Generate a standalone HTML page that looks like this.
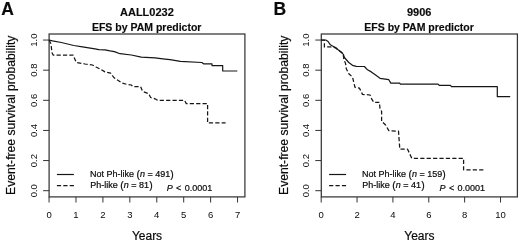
<!DOCTYPE html>
<html><head><meta charset="utf-8">
<style>
html,body{margin:0;padding:0;background:#fff;}
body{width:520px;height:243px;overflow:hidden;}
svg{display:block;will-change:transform;}
text{font-family:"Liberation Sans",sans-serif;fill:#0a0a0a;}
.b{font-weight:bold;stroke:#0a0a0a;stroke-width:0.15;}
.t text,text.t{stroke:#0a0a0a;stroke-width:0.2;}
.n text{stroke:none;}
.bx{stroke:#363636;stroke-width:1.25;fill:none;}
.tk{stroke:#333;stroke-width:1;fill:none;}
.cv{stroke:#161616;stroke-width:1.2;fill:none;stroke-linejoin:round;}
.ds{stroke:#161616;stroke-width:1.25;fill:none;stroke-dasharray:4.2 2.2;stroke-linejoin:round;}
</style></head><body>
<svg width="520" height="243" viewBox="0 0 520 243">
<rect width="520" height="243" fill="#fff"/>
<g id="A">
<text class="b" x="1.2" y="15.1" font-size="17.5">A</text>
<text class="b" x="146.9" y="15.8" font-size="11" text-anchor="middle">AALL0232</text>
<text class="b" x="146.7" y="30.6" font-size="10.5" text-anchor="middle">EFS by PAM predictor</text>
<rect class="bx" x="49.1" y="34.0" width="195.80" height="162.90"/>
<path class="tk" d="M49.1 40.05H43.10M49.1 70.18H43.10M49.1 100.31H43.10M49.1 130.44H43.10M49.1 160.57H43.10M49.1 190.70H43.10"/>
<g class="t n" font-size="9.5" text-anchor="middle">
<text transform="translate(37.40,40.05) rotate(-90)">1.0</text>
<text transform="translate(37.40,70.18) rotate(-90)">0.8</text>
<text transform="translate(37.40,100.31) rotate(-90)">0.6</text>
<text transform="translate(37.40,130.44) rotate(-90)">0.4</text>
<text transform="translate(37.40,160.57) rotate(-90)">0.2</text>
<text transform="translate(37.40,190.70) rotate(-90)">0.0</text>
</g>
<text class="t" transform="translate(14.70,115.3) rotate(-90)" font-size="12.15" text-anchor="middle">Event-free survival probability</text>
<path class="tk" d="M49.05 196.9V202.50M75.98 196.9V202.50M102.91 196.9V202.50M129.84 196.9V202.50M156.77 196.9V202.50M183.70 196.9V202.50M210.63 196.9V202.50M237.56 196.9V202.50"/>
<g class="t n" font-size="9.5" text-anchor="middle">
<text x="49.05" y="218.1">0</text>
<text x="75.98" y="218.1">1</text>
<text x="102.91" y="218.1">2</text>
<text x="129.84" y="218.1">3</text>
<text x="156.77" y="218.1">4</text>
<text x="183.70" y="218.1">5</text>
<text x="210.63" y="218.1">6</text>
<text x="237.56" y="218.1">7</text>
</g>
<text class="t" x="147.0" y="239.6" font-size="12" text-anchor="middle">Years</text>
<path class="cv" d="M49.1 40L52.5 40.9L61.3 42.5L73.8 45.5L82.5 46.8L95 48.8L98.8 49.6L105 49.8L110 50.9L114.4 51.6L120 53.7L131.3 55L141.3 57.1L155 57.9L165 59.1L170 59.7L180.4 61.4L201.9 62.5L203.5 63.8H212V65.6H222.7V71H237.3"/>
<path class="ds" d="M49.1 40L51 44L52 52.8L53.1 55H73.1L76.3 62.5L85 64L92.5 65L96 67L100 69L105 71.9L110.6 73.1L113.8 77.5L117.5 80L121.9 82.9L127.5 84.6L131.3 85L133 86.5H140.6L142.5 91.3L148.8 93.8L150.6 97.5L155 98.8L157.5 100.3H184.5L186.3 103.6H207.6V122.9H225.6"/>
<path class="cv" d="M56.9 174.5H73.9"/>
<path class="ds" d="M56.9 185.6H73.9"/>
<g class="t" font-size="9">
<text x="90" y="177.1">Not Ph-like <tspan font-size="10.4" dy="0.4">(</tspan><tspan font-style="italic" dy="-0.4">n</tspan> = 491<tspan font-size="10.4" dy="0.4">)</tspan></text>
<text x="90.35" y="188.1">Ph-like <tspan font-size="10.4" dy="0.4">(</tspan><tspan font-style="italic" dy="-0.4">n</tspan> = 81<tspan font-size="10.4" dy="0.4">)</tspan></text>
<text x="166.7" y="190.6"><tspan font-style="italic">P</tspan><tspan dx="3.4">&lt;</tspan><tspan dx="3.4">0.0001</tspan></text>
</g>
</g>
<g id="B">
<text class="b" x="273.6" y="15.1" font-size="17.5">B</text>
<text class="b" x="419.2" y="15.8" font-size="11" text-anchor="middle">9906</text>
<text class="b" x="419.1" y="30.6" font-size="10.5" text-anchor="middle">EFS by PAM predictor</text>
<rect class="bx" x="321.3" y="34.0" width="196.10" height="162.90"/>
<path class="tk" d="M321.3 40.05H315.30M321.3 70.18H315.30M321.3 100.31H315.30M321.3 130.44H315.30M321.3 160.57H315.30M321.3 190.70H315.30"/>
<g class="t n" font-size="9.5" text-anchor="middle">
<text transform="translate(309.00,40.05) rotate(-90)">1.0</text>
<text transform="translate(309.00,70.18) rotate(-90)">0.8</text>
<text transform="translate(309.00,100.31) rotate(-90)">0.6</text>
<text transform="translate(309.00,130.44) rotate(-90)">0.4</text>
<text transform="translate(309.00,160.57) rotate(-90)">0.2</text>
<text transform="translate(309.00,190.70) rotate(-90)">0.0</text>
</g>
<text class="t" transform="translate(287.50,115.3) rotate(-90)" font-size="12.15" text-anchor="middle">Event-free survival probability</text>
<path class="tk" d="M321.20 196.9V202.50M357.06 196.9V202.50M392.92 196.9V202.50M428.78 196.9V202.50M464.64 196.9V202.50M500.50 196.9V202.50"/>
<g class="t n" font-size="9.5" text-anchor="middle">
<text x="321.20" y="218.1">0</text>
<text x="357.06" y="218.1">2</text>
<text x="392.92" y="218.1">4</text>
<text x="428.78" y="218.1">6</text>
<text x="464.64" y="218.1">8</text>
<text x="500.50" y="218.1">10</text>
</g>
<text class="t" x="419.4" y="239.6" font-size="12" text-anchor="middle">Years</text>
<path class="cv" d="M321.3 40H325.8L328.1 41.5L330 44.4L332.5 46L335.6 47.5L338.1 49.8L341.9 52.5L343.4 54.5L344.4 57.5L348.8 62.5L352.5 65.3L356.3 66.3L364.4 66.5L367.5 69.8L371.3 71.9L376.3 75.6L380 78.3L388.8 79.7L390.8 83.1H399.6L400.4 84.2H438.1L439.2 85.4H450.4L451.5 86.7H497.3V96.7H510.2"/>
<path class="ds" d="M321.3 40H324.4V46.9H330.6L335 47.6L343.1 53.8L343.8 58.8L345.6 63.8L346.3 68.8L348.8 73.8L352.5 77L353.8 82.5L355 87.3L359.4 88.1L362.5 94.4L370 95L371.9 99.4L373.8 102.3H379.4L380 108.8L381.6 111.3V121.3L385.6 125L388.8 130.6L398.5 131.2L399.8 149.1H407.5L411.8 158.3H463.6V169.8H484.8"/>
<path class="cv" d="M329.1 174.5H346.1"/>
<path class="ds" d="M329.1 185.6H346.1"/>
<g class="t" font-size="9">
<text x="362" y="177.1">Not Ph-like <tspan font-size="10.4" dy="0.4">(</tspan><tspan font-style="italic" dy="-0.4">n</tspan> = 159<tspan font-size="10.4" dy="0.4">)</tspan></text>
<text x="362.35" y="188.1">Ph-like <tspan font-size="10.4" dy="0.4">(</tspan><tspan font-style="italic" dy="-0.4">n</tspan> = 41<tspan font-size="10.4" dy="0.4">)</tspan></text>
<text x="439.5" y="190.6"><tspan font-style="italic">P</tspan><tspan dx="3.4">&lt;</tspan><tspan dx="3.4">0.0001</tspan></text>
</g>
</g>
</svg>
</body></html>
